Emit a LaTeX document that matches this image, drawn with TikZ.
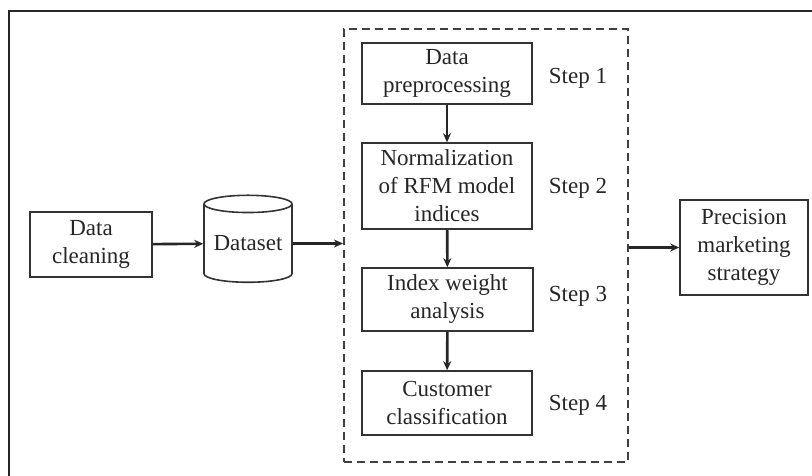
\documentclass[tikz,border=0pt]{standalone}
\usepackage{fontspec}
\setmainfont{Liberation Serif}
\usetikzlibrary{arrows.meta,shapes.geometric}

\begin{document}
\begin{tikzpicture}[x=1pt,y=-1pt,
	box/.style={draw=black!80, line width=1.6pt, align=center, inner sep=0pt, font=\fontsize{23}{28}\selectfont, text=black!85},
	steplabel/.style={font=\fontsize{23}{28}\selectfont, text=black!85},
	flow/.style={-{Stealth[length=9pt,width=8pt]}, line width=2.6pt, black!85}]
	\useasboundingbox (0,0) rectangle (812,476);
	% outer frame
	\draw[line width=1.8pt, black!85] (9,476) -- (9,11) -- (812,11);
	% dashed frame round the steps
	\node[draw=black!75, line width=2pt, dash pattern=on 8pt off 5pt, minimum width=284pt, minimum height=433pt, inner sep=0pt] (steps) at (486,245.5) {};
	\node[box, minimum width=170pt, minimum height=61pt] (prep) at (447,73.5) {Data\\preprocessing};
	\node[box, minimum width=170pt, minimum height=86pt] (norm) at (447,186) {Normalization\\of RFM model\\indices};
	\node[box, minimum width=171pt, minimum height=63pt] (weight) at (447.5,299.5) {Index weight\\analysis};
	\node[box, minimum width=170pt, minimum height=64pt] (classif) at (447,403) {Customer\\classification};
	\foreach \i/\y in {1/78,2/188,3/296,4/405}
	{
		\node[steplabel] (step\i) at (578,\y) {Step \i};
	}
	% left and right side
	\node[box, minimum width=122pt, minimum height=65pt] (clean) at (91,244.5) {Data\\cleaning};
	\node[box, shape=cylinder, shape border rotate=90, aspect=0.25, minimum width=88pt, minimum height=87pt] (dataset) at (248,243.5) {Dataset};
	\node[box, minimum width=128pt, minimum height=95pt] (strategy) at (744,247.5) {Precision\\marketing\\strategy};
	\draw[flow] (prep) -- (norm);
	\draw[flow] (norm) -- (weight);
	\draw[flow] (weight) -- (classif);
	\draw[flow] (clean) -- (dataset);
	\draw[flow] (dataset.east) -- (dataset.east -| steps.west);
	\draw[flow] (strategy.west -| steps.east) -- (strategy.west);
\end{tikzpicture}
\end{document}
